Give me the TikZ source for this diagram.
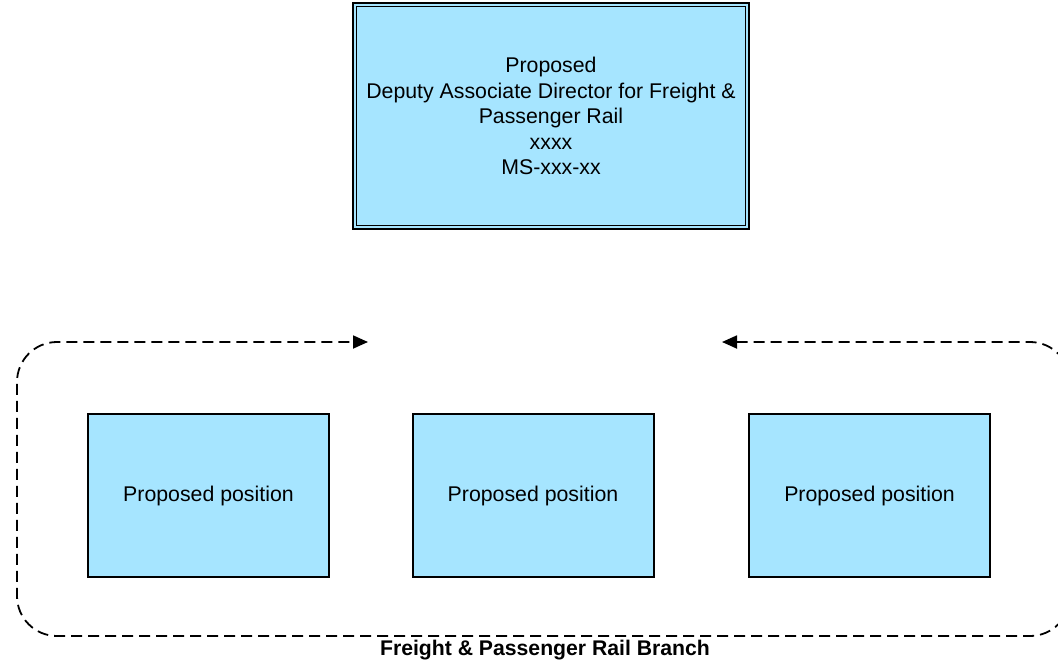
\documentclass[tikz,border=0pt]{standalone}
\usepackage{fontspec}
\setmainfont{Liberation Sans}
\usetikzlibrary{arrows.meta}
\definecolor{boxblue}{HTML}{A6E5FF}
\begin{document}
\begin{tikzpicture}[x=1pt,y=-1pt,
  posbox/.style={draw=black, line width=2pt, fill=boxblue, minimum width=241pt, minimum height=163pt, inner sep=0pt, font=\fontsize{21.3}{25}\selectfont},
  topbox/.style={draw=black, line width=2.6pt, fill=boxblue, minimum width=396pt, minimum height=226pt, inner sep=0pt, align=center, font=\fontsize{21.3}{25.5}\selectfont},
  branchline/.style={line width=1.8pt, dash pattern=on 11pt off 6pt, rounded corners=40pt, {Triangle[length=15pt,width=13pt]}-{Triangle[length=15pt,width=13pt]}},
  labeltext/.style={font=\bfseries\fontsize{21.2}{25}\selectfont, anchor=base, inner sep=0pt}
]
\useasboundingbox (0,0) rectangle (1058,664);
\clip (0,0) rectangle (1058,664);
\node[topbox] (top) at (551,116) {Proposed\\Deputy Associate Director for Freight \&\\Passenger Rail\\xxxx\\MS-xxx-xx};
\draw[line width=1.2pt] ([shift={(4.5,4.5)}]top.north west) rectangle ([shift={(-4.5,-4.5)}]top.south east);
\node[posbox] (p1) at (208.5,495.5) {Proposed position};
\node[posbox] (p2) at (533,495.5) {Proposed position};
\node[posbox] (p3) at (869.5,495.5) {Proposed position};
\coordinate (gapR) at (722,342);
\coordinate (gapL) at (368,342);
\draw[branchline] (gapR) -- (1070,342) -- (1070,636) -- (17,636) -- (17,342) -- (gapL);
\node[labeltext] (lbl) at (545,655.5) {Freight \& Passenger Rail Branch};
\end{tikzpicture}
\end{document}
